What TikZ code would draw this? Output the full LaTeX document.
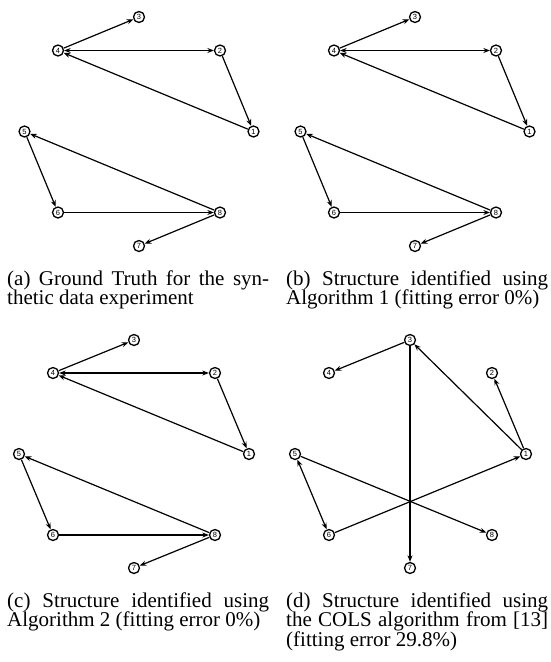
\documentclass[tikz,border=0pt]{standalone}
\usepackage{fontspec}
\setmainfont{Liberation Serif}
\setsansfont{Liberation Sans}
\usetikzlibrary{arrows.meta}
\newcommand{\capfont}{\fontsize{21}{19.5}\selectfont\lineskiplimit=-100pt\relax}

\begin{document}
\begin{tikzpicture}[x=1pt,y=-1pt,
    vtx/.style={circle,draw,line width=1.3pt,minimum size=11pt,inner sep=0pt,
      font=\fontsize{7.5}{7.5}\sffamily},
    arc/.style={line width=1.2pt,-{Stealth[length=6.5pt,width=5pt]}},
    biarc/.style={line width=1.2pt,{Stealth[length=6.5pt,width=5pt]}-{Stealth[length=6.5pt,width=5pt]}},
    captxt/.style={anchor=base west,inner sep=0pt,text width=262pt,align=justify,
      font=\capfont}]
    \useasboundingbox (0,0) rectangle (550,662);

    % (a) ground truth
    \node[vtx] (a3) at (139,17) {3};
    \node[vtx] (a2) at (220,50.5) {2};
    \node[vtx] (a1) at (253.5,131.5) {1};
    \node[vtx] (a8) at (220,212.5) {8};
    \node[vtx] (a7) at (139,246) {7};
    \node[vtx] (a6) at (58,212.5) {6};
    \node[vtx] (a5) at (24.5,131.5) {5};
    \node[vtx] (a4) at (58,50.5) {4};
    \draw[arc] (a4)--(a3);
    \draw[biarc] (a4)--(a2);
    \draw[arc] (a2)--(a1);
    \draw[arc] (a1)--(a4);
    \draw[arc] (a8)--(a5);
    \draw[arc] (a5)--(a6);
    \draw[arc] (a6)--(a8);
    \draw[arc] (a8)--(a7);
    \node[captxt] (capa) at (7,285) {(a) Ground Truth for the syn-\linebreak thetic data experiment};

    % (b) algorithm 1
    \node[vtx] (b3) at (415,17) {3};
    \node[vtx] (b2) at (496,50.5) {2};
    \node[vtx] (b1) at (529.5,131.5) {1};
    \node[vtx] (b8) at (496,212.5) {8};
    \node[vtx] (b7) at (415,246) {7};
    \node[vtx] (b6) at (334,212.5) {6};
    \node[vtx] (b5) at (300.5,131.5) {5};
    \node[vtx] (b4) at (334,50.5) {4};
    \draw[arc] (b4)--(b3);
    \draw[biarc] (b4)--(b2);
    \draw[arc] (b2)--(b1);
    \draw[arc] (b1)--(b4);
    \draw[arc] (b8)--(b5);
    \draw[arc] (b5)--(b6);
    \draw[arc] (b6)--(b8);
    \draw[arc] (b8)--(b7);
    \node[captxt] (capb) at (286,285) {(b) Structure identified using\linebreak Algorithm 1 (fitting error 0\%)};

    % (c) algorithm 2
    \node[vtx] (c3) at (134,340) {3};
    \node[vtx] (c2) at (215,373) {2};
    \node[vtx] (c1) at (249,454) {1};
    \node[vtx] (c8) at (215,535) {8};
    \node[vtx] (c7) at (134,568) {7};
    \node[vtx] (c6) at (53,535) {6};
    \node[vtx] (c5) at (19,454) {5};
    \node[vtx] (c4) at (53,373) {4};
    \draw[arc] (c4)--(c3);
    \draw[biarc] (c4)--(c2);
    \draw[arc] (c2)--(c1);
    \draw[arc] (c1)--(c4);
    \draw[arc] (c8)--(c5);
    \draw[arc] (c5)--(c6);
    \draw[arc] (c6)--(c8);
    \draw[arc] (c8)--(c7);
    \node[captxt] (capc) at (7,607) {(c) Structure identified using\linebreak Algorithm 2 (fitting error 0\%)};

    % (d) COLS
    \node[vtx] (d3) at (410,340) {3};
    \node[vtx] (d2) at (492,373) {2};
    \node[vtx] (d1) at (526,454) {1};
    \node[vtx] (d8) at (492,535) {8};
    \node[vtx] (d7) at (410,568) {7};
    \node[vtx] (d6) at (329,535) {6};
    \node[vtx] (d5) at (295,454) {5};
    \node[vtx] (d4) at (329,373) {4};
    \draw[arc] (d3)--(d4);
    \draw[arc] (d3)--(d7);
    \draw[arc] (d1)--(d3);
    \draw[arc] (d1)--(d2);
    \draw[arc] (d6)--(d1);
    \draw[arc] (d5)--(d8);
    \draw[biarc] (d5)--(d6);
    \node[captxt] (capd) at (286,607) {(d) Structure identified using\linebreak the COLS algorithm from [13]\linebreak (fitting error 29.8\%)};
\end{tikzpicture}
\end{document}
